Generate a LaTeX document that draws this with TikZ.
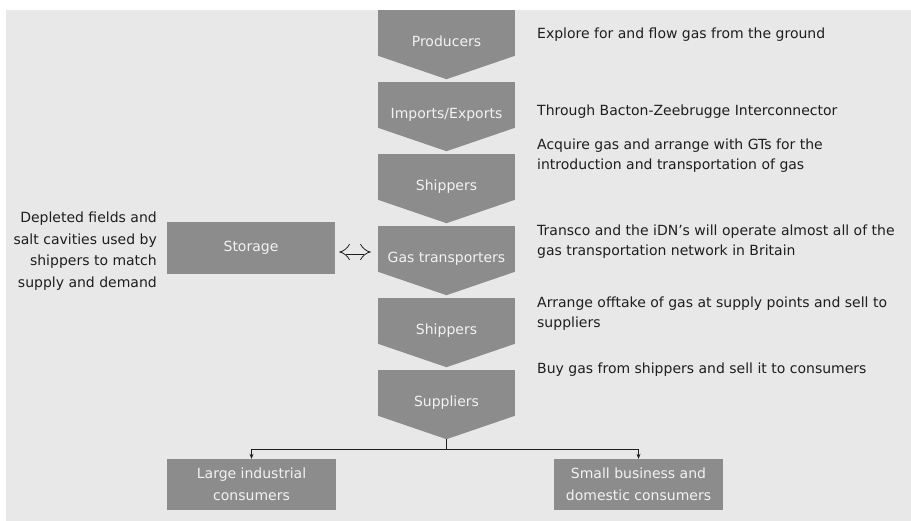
\documentclass[tikz,border=0pt]{standalone}
\usepackage{fontspec}
\setmainfont{DejaVu Sans}
\usepackage{xcolor}
\usetikzlibrary{arrows.meta}

\definecolor{bggrey}{HTML}{E8E8E8}
\definecolor{boxgrey}{HTML}{8C8C8C}
\definecolor{labelgrey}{HTML}{F2F2F2}
\definecolor{textdark}{HTML}{1E1E1E}

\tikzset{
  chevron/.style={rectangle, fill=boxgrey, text=labelgrey, inner sep=0pt,
    minimum width=137pt, minimum height=46pt, text height=27pt, text depth=0pt,
    font=\fontsize{14}{20}\selectfont},
  box/.style={rectangle, fill=boxgrey, text=labelgrey, inner sep=0pt, align=center,
    minimum width=169pt, minimum height=51pt, font=\fontsize{14}{22}\selectfont},
  note/.style={anchor=west, align=left, inner sep=0pt, text=textdark,
    font=\fontsize{14}{20}\selectfont},
  link/.style={draw=textdark, line width=0.8pt}
}

\begin{document}
\begin{tikzpicture}[x=1pt,y=-1pt]
    % Background
    \useasboundingbox (0,0) rectangle (911,521);
    \fill[bggrey] (6,10) rectangle (911,521);
    % Chevrons
    \node[chevron] (prod)  at (446.5,33)  {Producers};
    \node[chevron] (imp)   at (446.5,105) {Imports/Exports};
    \node[chevron] (ship)  at (446.5,177) {Shippers};
    \node[chevron] (gt)    at (446.5,249) {Gas transporters};
    \node[chevron] (shipb) at (446.5,321) {Shippers};
    \node[chevron] (supp)  at (446.5,393) {Suppliers};
    \foreach \n in {prod,imp,ship,gt,shipb,supp}
      \fill[boxgrey] ([yshift=0.5pt]\n.south west) -- ([yshift=0.5pt]\n.south east)
        -- ([yshift=-23pt]\n.south) -- cycle;
    % Notes on the right
    \node[note] (nprod)  at (537,35)  {Explore for and flow gas from the ground};
    \node[note] (nimp)   at (537,112) {Through Bacton-Zeebrugge Interconnector};
    \node[note] (nship)  at (537,156) {Acquire gas and arrange with GTs for the\\introduction and transportation of gas};
    \node[note] (ngt)    at (537,242) {Transco and the iDN’s will operate almost all of the\\gas transportation network in Britain};
    \node[note] (nshipb) at (537,314) {Arrange offtake of gas at supply points and sell to\\suppliers};
    \node[note] (nsupp)  at (537,370) {Buy gas from shippers and sell it to consumers};
    % Storage
    \node[box, minimum width=168pt, minimum height=52pt] (stor) at (251,248) {Storage};
    \node[anchor=east, align=right, inner sep=0pt, text=textdark,
      font=\fontsize{14}{21.5}\selectfont] (nstor) at (157,251)
      {Depleted fields and\\salt cavities used by\\shippers to match\\supply and demand};
    \draw[textdark, line width=0.8pt, double=bggrey, double distance=5pt,
      {Implies[length=7pt,width=16pt]}-{Implies[length=7pt,width=16pt]},
      shorten <=4pt, shorten >=7pt]
      ([yshift=-4pt]stor.east) -- ([yshift=-4pt]stor.east -| gt.west);
    % Consumers
    \node[box] (large) at (251.5,484.5) {Large industrial\\consumers};
    \node[box] (small) at (638.5,484.5) {Small business and\\domestic consumers};
    \coordinate (tip) at ([yshift=-23pt]supp.south);
    \coordinate (split) at ([yshift=-33pt]supp.south);
    \draw[link] (tip) -- (split);
    \draw[link, -{Stealth[length=5pt,width=4pt]}] (split) -| (large.north);
    \draw[link, -{Stealth[length=5pt,width=4pt]}] (split) -| (small.north);
\end{tikzpicture}
\end{document}
